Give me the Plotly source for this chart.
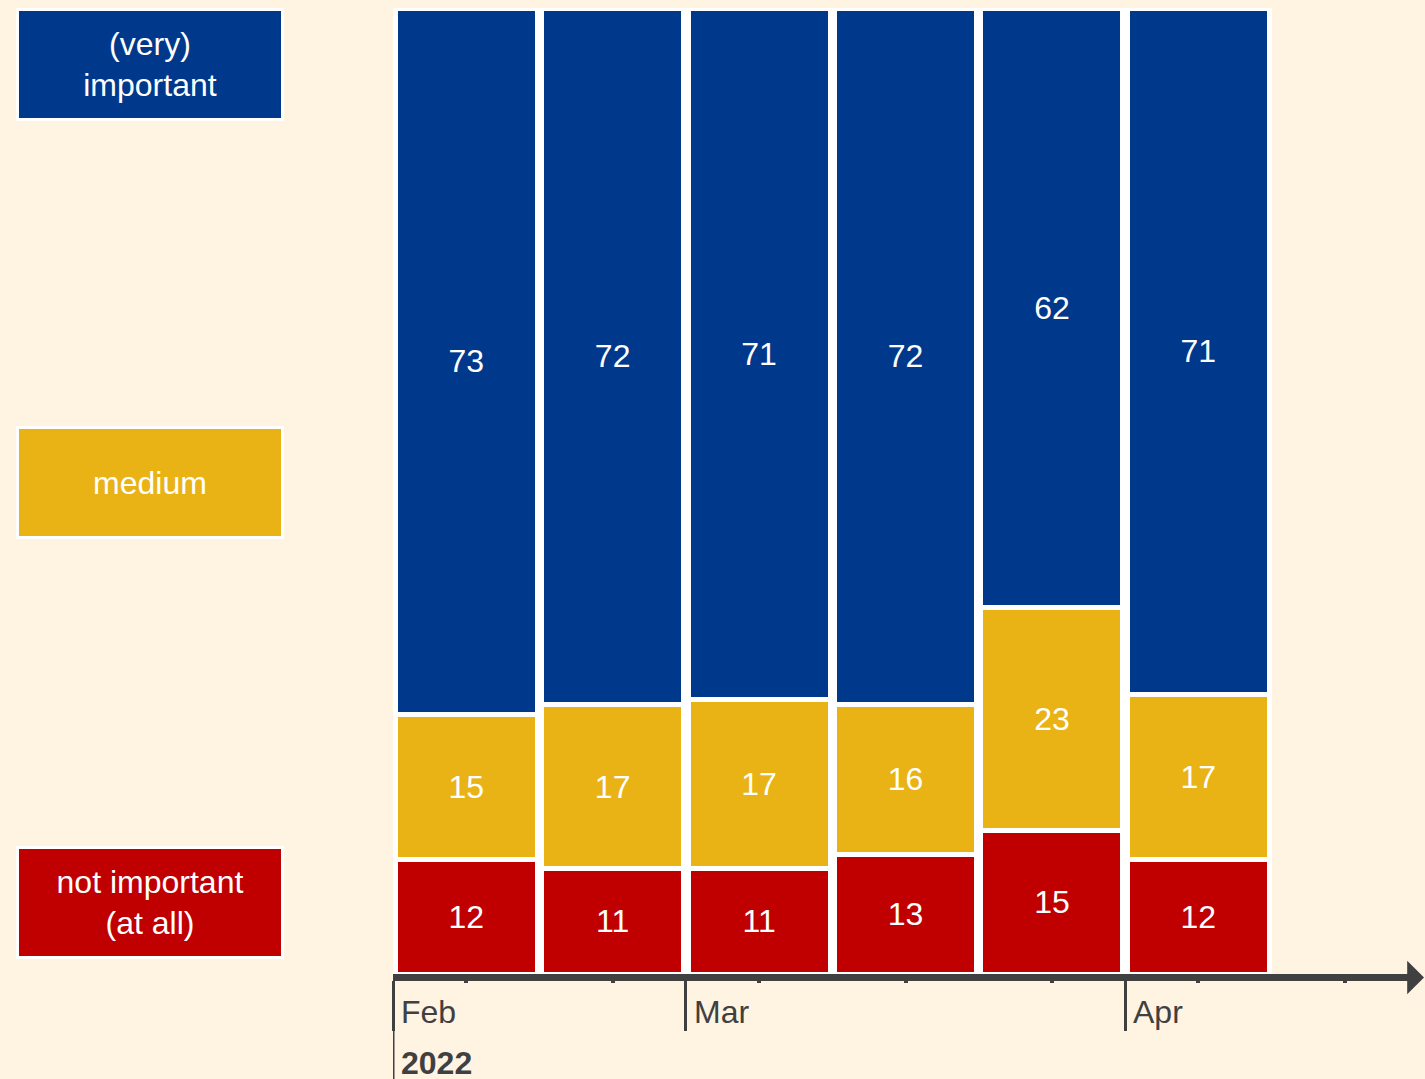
import plotly.graph_objects as go

# ---- data ----
periods = [0, 1, 2, 3, 4, 5]              # survey waves (Feb–Apr 2022)
not_important = [11.9, 10.9, 10.9, 12.4, 14.9, 11.9]
medium = [15.0, 17.0, 17.5, 15.5, 23.0, 17.0]
important = [73.1, 72.1, 71.6, 72.1, 62.1, 71.1]
not_important_lbl = ["12", "11", "11", "13", "15", "12"]
medium_lbl = ["15", "17", "17", "16", "23", "17"]
important_lbl = ["73", "72", "71", "72", "62", "71"]
month_ticks = [-0.5, 1.5, 4.5]
month_labels = ["Feb", "Mar", "Apr"]
year_label = "2022"
series_names = ["not important<br>(at all)", "medium", "(very)<br>important"]

# ---- style ----
BG = "#FFF3E2"
BLUE = "#00388C"
YELLOW = "#EAB315"
RED = "#C00000"
GRAY = "#404040"
FONT = "Liberation Sans, Arial, sans-serif"
FS = 32

W, H = 1425, 1079
ML, MR, MT, MB = 393, 7, 8, 105
PW = W - ML - MR
PH = H - MT - MB


def px_x(p):
    return (p - ML) / PW


def px_y(p):
    return (H - MB - p) / PH


fig = go.Figure()
for vals, lbls, col, name in [
    (not_important, not_important_lbl, RED, series_names[0]),
    (medium, medium_lbl, YELLOW, series_names[1]),
    (important, important_lbl, BLUE, series_names[2]),
]:
    fig.add_trace(go.Bar(
        x=periods, y=vals, text=lbls, name=name,
        marker=dict(color=col, line=dict(color="white", width=5)),
        textposition="inside", insidetextanchor="middle", textangle=0,
        textfont=dict(color="white", size=FS, family=FONT),
        hoverinfo="skip",
    ))

fig.update_layout(
    barmode="stack", bargap=0.03, showlegend=False,
    width=W, height=H,
    paper_bgcolor=BG, plot_bgcolor=BG,
    margin=dict(l=ML, r=MR, t=MT, b=MB, autoexpand=False),
    font=dict(family=FONT, size=FS, color=GRAY),
    uniformtext=dict(minsize=FS, mode="show"),
)
fig.update_xaxes(
    range=[-0.5, 6.5], showgrid=False, zeroline=False,
    showline=True, linewidth=7, linecolor=GRAY,
    tickmode="array", tickvals=month_ticks, ticktext=month_labels,
    showticklabels=False,
    ticks="outside", ticklen=50, tickwidth=3, tickcolor=GRAY,
    minor=dict(tick0=0, dtick=1, ticks="outside", ticklen=2, tickwidth=4, tickcolor=GRAY),
)
fig.update_yaxes(range=[0, 100], visible=False, showgrid=False, zeroline=False)

ann = []
# month labels to the right of the long tick lines
for t, lab in zip(month_ticks, month_labels):
    ann.append(dict(x=t, xref="x", y=px_y(1012), yref="paper", text=lab,
                    xanchor="left", yanchor="middle", xshift=6, showarrow=False,
                    font=dict(size=FS, color=GRAY, family=FONT)))
ann.append(dict(x=month_ticks[0], xref="x", y=px_y(1063), yref="paper",
                text="<b>" + year_label + "</b>", xanchor="left", yanchor="middle",
                xshift=6, showarrow=False, font=dict(size=FS, color=GRAY, family=FONT)))
# arrow head at the end of the axis
ann.append(dict(x=px_x(1428), xref="paper", y=0, yref="paper", yshift=-3.5,
                ax=-40, ay=0, axref="pixel", ayref="pixel", text="", showarrow=True,
                arrowhead=1, arrowsize=0.8, arrowwidth=7, arrowcolor=GRAY))
# legend boxes
for txt, col, cy in [(series_names[2], BLUE, 64), (series_names[1], YELLOW, 483),
                     (series_names[0], RED, 902)]:
    ann.append(dict(x=px_x(150), xref="paper", y=px_y(cy), yref="paper", text=txt,
                    xanchor="center", yanchor="middle", showarrow=False,
                    width=262, height=107, bgcolor=col, bordercolor="white",
                    borderwidth=3, borderpad=0, align="center", valign="middle",
                    font=dict(size=FS, color="white", family=FONT)))
fig.update_layout(annotations=ann)

# long Feb tick line (first tick carries the year)
fig.add_shape(type="line", x0=month_ticks[0], x1=month_ticks[0], xref="x",
              y0=px_y(978), y1=px_y(1079), yref="paper",
              line=dict(color=GRAY, width=3))

fig.write_html("out.html", config={"displayModeBar": False},
               post_script="document.body.style.margin='0';document.body.style.overflow='hidden';")
